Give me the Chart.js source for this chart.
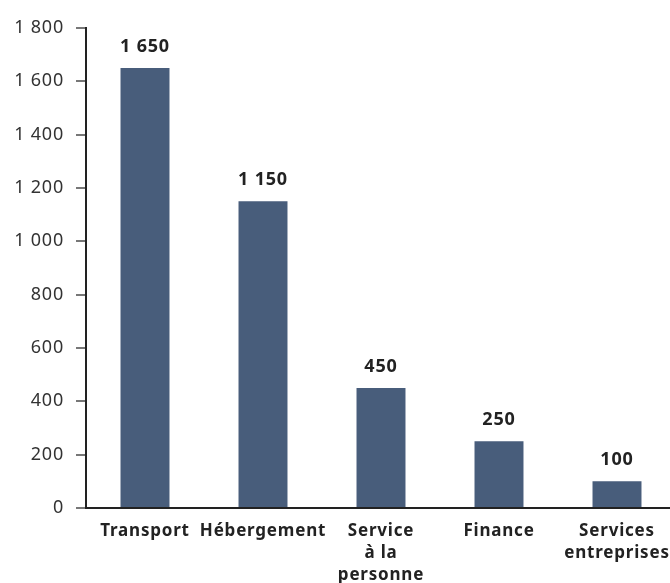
<!DOCTYPE html>
<html>
<head>
<meta charset="utf-8">
<script src="https://cdn.jsdelivr.net/npm/chart.js@4"></script>
<style>
  html, body { margin: 0; padding: 0; overflow: hidden; background: #fff; }
  #boite { width: 676px; height: 583px; }
</style>
</head>
<body>
<div id="boite"><canvas id="canvas_secteurs"></canvas></div>
<script>
    // données
    var labelSecteurs = [['Transport'], ['Hébergement'], ['Service', 'à la', 'personne'], ['Finance'], ['Services', 'entreprises']];
    var dataValeurs = [1650, 1150, 450, 250, 100];
    var ticksY = [0, 200, 400, 600, 800, 1000, 1200, 1400, 1600, 1800];

    function formatFr(v) {     // 1650 -> "1 650"
        var s = String(v);
        return s.length > 3 ? s.slice(0, s.length - 3) + ' ' + s.slice(-3) : s;
    }

    // lettres un peu plus espacées, comme la police d'origine
    const espacement = {
        id: 'espacement',
        beforeDraw(chart) { chart.ctx.letterSpacing = '0.8px'; }
    };

    // écrit les valeurs au-dessus des barres
    const etiquettes = {
        id: 'etiquettes',
        afterDatasetsDraw(chart) {
            const ctx = chart.ctx;
            ctx.save();
            ctx.font = 'bold 18px "Noto Sans"';
            ctx.fillStyle = '#222';
            ctx.textAlign = 'center';
            ctx.textBaseline = 'middle';
            chart.getDatasetMeta(0).data.forEach((barre, i) => {
                ctx.fillText(formatFr(dataValeurs[i]), barre.x, barre.y - 21);
            });
            ctx.restore();
        }
    };

    Chart.defaults.font.family = '"Noto Sans"';

    var graficoSecteurs = new Chart(document.getElementById('canvas_secteurs'), {
        type: 'bar',
        data: {
            labels: labelSecteurs,
            datasets: [{
                data: dataValeurs,
                backgroundColor: '#485d7b',
                barPercentage: 0.415,
                categoryPercentage: 1
            }]
        },
        options: {
            responsive: true,
            maintainAspectRatio: false,
            animation: false,
            layout: { padding: { top: 28, left: 0, right: 0, bottom: 0 } },
            plugins: { legend: { display: false }, tooltip: { enabled: false } },
            scales: {
                x: {
                    grid: { display: false },
                    border: { color: '#222', width: 2 },
                    ticks: {
                        color: '#222',
                        font: { size: 17, weight: 'bold', lineHeight: 1.3 },
                        padding: 4,
                        maxRotation: 0,
                        autoSkip: false
                    },
                    afterFit: s => { s.height = 75; }
                },
                y: {
                    min: 0,
                    max: 1800,
                    afterBuildTicks: s => { s.ticks = ticksY.map(v => ({ value: v })); },
                    grid: { drawOnChartArea: false, drawTicks: true, tickLength: 10, color: '#777', lineWidth: 2 },
                    border: { color: '#222', width: 2 },
                    ticks: {
                        color: '#333',
                        font: { size: 18 },
                        padding: 12,
                        callback: v => formatFr(v)
                    },
                    afterFit: s => { s.width = 86; }
                }
            }
        },
        plugins: [espacement, etiquettes]
    });
</script>
</body>
</html>
